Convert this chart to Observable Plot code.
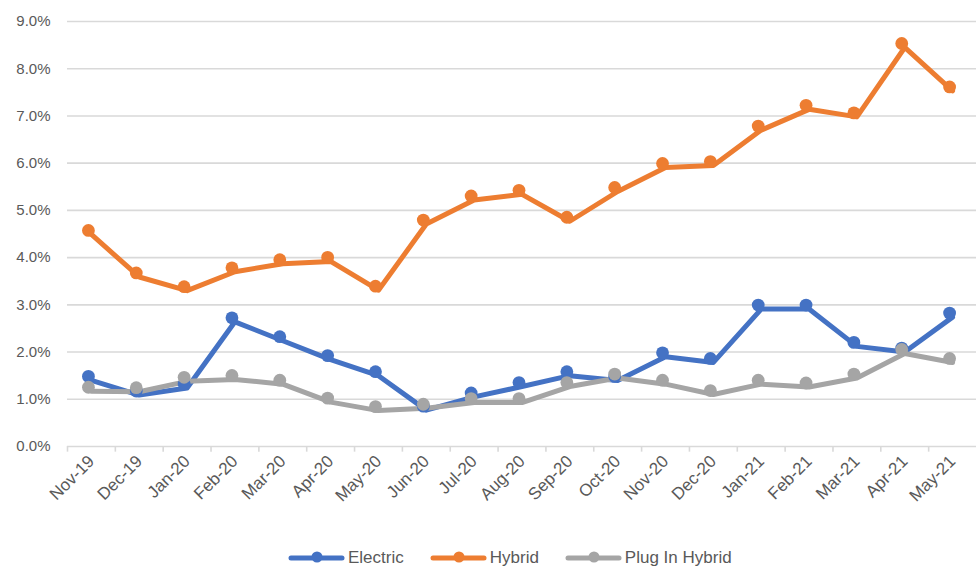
<!DOCTYPE html>
<html>
<head>
<meta charset="utf-8">
<script src="https://cdn.jsdelivr.net/npm/d3@7"></script>
<script src="https://cdn.jsdelivr.net/npm/@observablehq/plot@0.6"></script>
<style>
  html, body { margin: 0; padding: 0; background: #fff; }
  body { width: 976px; height: 568px; overflow: hidden; position: relative; font-family: "Liberation Sans", Arial, sans-serif; }
  #legend { position: absolute; top: 548px; left: 288px; display: flex; align-items: center; font-size: 17px; color: #595959; }
  .item { display: flex; align-items: center; margin-right: 26px; }
  .item svg { margin-right: 3px; }
  svg [aria-label="x-axis tick label"] text { font-size: 17px !important; }
  svg [aria-label="y-axis tick label"] text { font-size: 15px !important; }
</style>
</head>
<body>
<div id="chart"></div>
<div id="legend"></div>
<script>
const months = ["Nov-19","Dec-19","Jan-20","Feb-20","Mar-20","Apr-20","May-20","Jun-20","Jul-20","Aug-20","Sep-20","Oct-20","Nov-20","Dec-20","Jan-21","Feb-21","Mar-21","Apr-21","May-21"];
const seriesNames = ["Electric", "Hybrid", "Plug In Hybrid"];
const seriesColors = ["#4472C4", "#ED7D31", "#A5A5A5"];
const electric = [1.40,1.09,1.24,2.64,2.24,1.84,1.50,0.77,1.05,1.27,1.50,1.40,1.90,1.78,2.91,2.91,2.12,2.00,2.74];
const hybrid   = [4.49,3.59,3.30,3.70,3.87,3.92,3.31,4.71,5.22,5.34,4.77,5.40,5.91,5.95,6.70,7.14,6.98,8.45,7.53];
const plugIn   = [1.17,1.16,1.38,1.42,1.32,0.94,0.76,0.81,0.93,0.93,1.27,1.45,1.32,1.10,1.32,1.26,1.45,1.97,1.78];
const yTicks = [0,1,2,3,4,5,6,7,8,9];

const valuesBySeries = [electric, hybrid, plugIn];
const data = [];
seriesNames.forEach((s, i) => months.forEach((m, j) => data.push({series: s, month: m, value: valuesBySeries[i][j]})));

const W = 976, ML = 67, MR = 0;
const step = (W - ML - MR) / months.length;

const chart = Plot.plot({
  width: W,
  height: 530,
  marginLeft: ML,
  marginRight: MR,
  marginTop: 21,
  marginBottom: 84,
  style: {fontFamily: "'Liberation Sans', Arial, sans-serif", color: "#595959", background: "#fff"},
  x: {type: "point", domain: months, padding: 0.5, round: false, label: null},
  y: {domain: [0, 9], label: null},
  color: {domain: seriesNames, range: seriesColors},
  marks: [
    Plot.gridY(yTicks, {stroke: "#d9d9d9", strokeOpacity: 1, strokeWidth: 1.6}),
    Plot.ruleX(months, {x: d => d, dx: -step / 2, y1: 0, y2: -0.12, stroke: "#d9d9d9", strokeWidth: 1.6}),
    Plot.axisX({tickRotate: -45, tickSize: 0, tickPadding: 12, fontSize: 17, fill: "#595959", label: null}),
    Plot.axisY({ticks: yTicks, tickFormat: d => d.toFixed(1) + "%", tickSize: 0, tickPadding: 17, fontSize: 15, fill: "#595959", label: null}),
    Plot.line(data, {x: "month", y: "value", z: "series", stroke: "series", strokeWidth: 5, strokeLinejoin: "round", strokeLinecap: "round"}),
    Plot.dot(data, {x: "month", y: "value", fill: "series", r: 6.4, dx: -3, dy: -4})
  ]
});
document.getElementById("chart").appendChild(chart);

const legend = document.getElementById("legend");
seriesNames.forEach((s, i) => {
  const item = document.createElement("div");
  item.className = "item";
  item.innerHTML = `<svg width="57" height="20"><line x1="3" y1="10" x2="54" y2="10" stroke="${seriesColors[i]}" stroke-width="5" stroke-linecap="round"/><circle cx="29" cy="9" r="5.5" fill="${seriesColors[i]}"/></svg><span>${s}</span>`;
  legend.appendChild(item);
});
</script>
</body>
</html>
